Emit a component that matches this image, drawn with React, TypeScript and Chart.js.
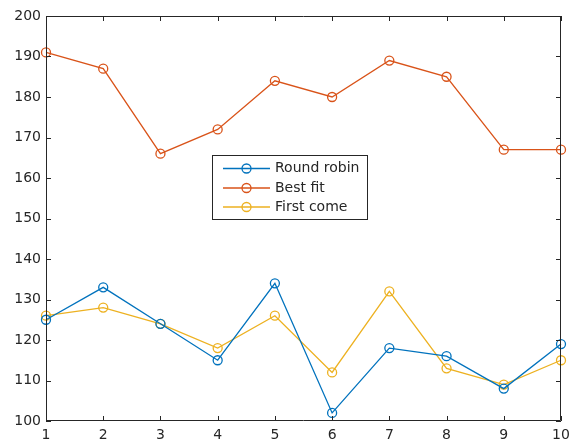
import React, { useEffect, useRef } from "react";
import { Chart, registerables } from "chart.js";

Chart.register(...registerables);

const xValues = [1, 2, 3, 4, 5, 6, 7, 8, 9, 10];
const roundRobin = [125, 133, 124, 115, 134, 102, 118, 116, 108, 119];
const bestFit = [191, 187, 166, 172, 184, 180, 189, 185, 167, 167];
const firstCome = [126, 128, 124, 118, 126, 112, 132, 113, 109, 115];
const seriesNames = ["Round robin", "Best fit", "First come"];
const seriesColors = ["#0072BD", "#D95319", "#EDB120"];

const AXIS = "#262626";
const FONT = "DejaVu Sans";

const boxPlugin = {
  id: "matlabBox",
  afterDraw(chart: any) {
    const ctx = chart.ctx;
    const { left, right, top, bottom } = chart.chartArea;
    ctx.save();
    ctx.strokeStyle = AXIS;
    ctx.lineWidth = 1;
    ctx.beginPath();
    ctx.rect(left + 0.5, top + 0.5, right - left - 1, bottom - top - 1);
    ctx.stroke();
    const tl = 5;
    const xs = chart.scales.x;
    const ys = chart.scales.y;
    ctx.beginPath();
    xs.ticks.forEach((t: any) => {
      const px = Math.round(xs.getPixelForValue(t.value)) + 0.5;
      ctx.moveTo(px, bottom);
      ctx.lineTo(px, bottom - tl);
      ctx.moveTo(px, top);
      ctx.lineTo(px, top + tl);
    });
    ys.ticks.forEach((t: any) => {
      const py = Math.round(ys.getPixelForValue(t.value)) + 0.5;
      ctx.moveTo(left, py);
      ctx.lineTo(left + tl, py);
      ctx.moveTo(right, py);
      ctx.lineTo(right - tl, py);
    });
    ctx.stroke();

    // legend
    const lx = 212, ly = 155, lw = 155, lh = 64;
    ctx.fillStyle = "#ffffff";
    ctx.fillRect(lx, ly, lw, lh);
    ctx.strokeStyle = AXIS;
    ctx.strokeRect(lx + 0.5, ly + 0.5, lw, lh);
    const rowsY = [168.5, 188, 207];
    chart.data.datasets.forEach((ds: any, i: number) => {
      const y = rowsY[i];
      ctx.strokeStyle = ds.borderColor;
      ctx.lineWidth = 1.3;
      ctx.beginPath();
      ctx.moveTo(223, y);
      ctx.lineTo(270, y);
      ctx.stroke();
      ctx.beginPath();
      ctx.arc(246.5, y, 4.5, 0, Math.PI * 2);
      ctx.stroke();
      ctx.fillStyle = AXIS;
      ctx.font = `14px "${FONT}"`;
      ctx.textBaseline = "middle";
      ctx.textAlign = "left";
      ctx.fillText(ds.label, 275, y);
    });
    ctx.restore();
  },
};

export default function App() {
  const ref = useRef<HTMLCanvasElement>(null);
  useEffect(() => {
    document.body.style.margin = "0";
    const data = [roundRobin, bestFit, firstCome];
    const chart = new Chart(ref.current!, {
      type: "line",
      data: {
        datasets: data.map((vals, i) => ({
          label: seriesNames[i],
          data: vals.map((v, j) => ({ x: xValues[j], y: v })),
          borderColor: seriesColors[i],
          backgroundColor: "rgba(0,0,0,0)",
          borderWidth: 1.3,
          pointRadius: 4.5,
          pointBorderWidth: 1.3,
          pointBackgroundColor: "rgba(0,0,0,0)",
          pointBorderColor: seriesColors[i],
          pointStyle: "circle",
          tension: 0,
          clip: false,
        })),
      },
      options: {
        animation: false,
        responsive: false,
        maintainAspectRatio: false,
        layout: { padding: { top: 16, right: 9, left: 0, bottom: 0 } },
        plugins: { legend: { display: false }, tooltip: { enabled: false } },
        scales: {
          x: {
            type: "linear",
            min: 1,
            max: 10,
            ticks: { stepSize: 1, color: AXIS, font: { family: FONT, size: 14 }, padding: 6, maxRotation: 0 },
            grid: { display: false, drawTicks: false },
            border: { display: false },
            afterFit: (s: any) => { s.height = 22; s.paddingRight = 0; s.paddingLeft = 0; },
          },
          y: {
            min: 100,
            max: 200,
            ticks: { stepSize: 10, color: AXIS, font: { family: FONT, size: 14 }, padding: 5 },
            grid: { display: false, drawTicks: false },
            border: { display: false },
            afterFit: (s: any) => { s.width = 46; s.paddingTop = 0; s.paddingBottom = 0; },
          },
        },
      },
      plugins: [boxPlugin],
    });
    return () => chart.destroy();
  }, []);
  return <canvas ref={ref} width={570} height={443} style={{ display: "block" }} />;
}
